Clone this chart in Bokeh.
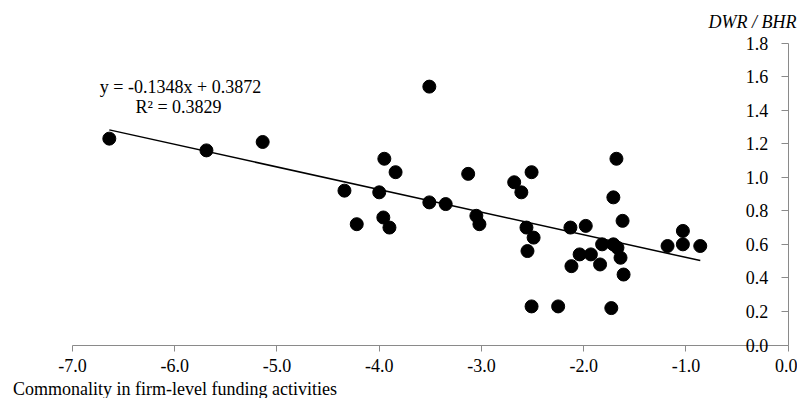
from bokeh.plotting import figure
from bokeh.models import LinearAxis, FixedTicker, NumeralTickFormatter, Label, ColumnDataSource, Range1d
from bokeh.embed import file_html
from bokeh.resources import INLINE

# ---- data ----
x_vals = [-6.64, -5.69, -5.14, -4.34, -4.22,
          -3.95, -3.84, -4.00, -3.96, -3.90,
          -3.51, -3.51, -3.35, -3.13, -3.05, -3.02,
          -2.68, -2.61, -2.51, -2.56, -2.49, -2.55, -2.51, -2.25,
          -2.13, -1.98, -2.12, -2.04, -1.93, -1.82, -1.84,
          -1.68, -1.71, -1.62, -1.71, -1.67, -1.64, -1.61, -1.73,
          -1.18, -1.03, -1.03, -0.86]
y_vals = [1.23, 1.16, 1.21, 0.92, 0.72,
          1.11, 1.03, 0.91, 0.76, 0.70,
          1.54, 0.85, 0.84, 1.02, 0.77, 0.72,
          0.97, 0.91, 1.03, 0.70, 0.64, 0.56, 0.23, 0.23,
          0.70, 0.71, 0.47, 0.54, 0.54, 0.60, 0.48,
          1.11, 0.88, 0.74, 0.60, 0.58, 0.52, 0.42, 0.22,
          0.59, 0.68, 0.60, 0.59]
slope = -0.1348
intercept = 0.3872
r_squared = 0.3829
x_ticks = [-7.0, -6.0, -5.0, -4.0, -3.0, -2.0, -1.0, 0.0]
y_ticks = [0.0, 0.2, 0.4, 0.6, 0.8, 1.0, 1.2, 1.4, 1.6, 1.8]
x_title = "Commonality in firm-level funding activities"
y_title = "DWR / BHR"

FONT = "Liberation Serif"
AXIS_GRAY = "#8a8a8a"

# ---- layout: frame fills the whole canvas, axes drawn at fixed positions ----
W, H = 797, 398
PX_L, PX_R = 72.0, 787.7      # pixel x of -7 and 0
PX_T, PX_B = 42.5, 344.5      # pixel y of 1.8 and 0
sx = (PX_R - PX_L) / 7.0
sy = (PX_B - PX_T) / 1.8
x_start = -7.0 - PX_L / sx
x_end = (W - PX_R) / sx
y_end = 1.8 + PX_T / sy
y_start = -(H - PX_B) / sy

def px_to_x(px):
    return (px - PX_R) / sx

def py_to_y(py):
    return (PX_B - py) / sy

p = figure(width=W, height=H,
           x_range=Range1d(x_start, x_end), y_range=Range1d(y_start, y_end),
           output_backend="svg", toolbar_location=None,
           x_axis_location=None, y_axis_location=None,
           min_border_left=0, min_border_right=0,
           min_border_top=0, min_border_bottom=0)
p.grid.visible = False
p.outline_line_color = None
p.background_fill_color = "white"
p.border_fill_color = "white"

# x axis at y = 0
xa = LinearAxis(fixed_location=0.0, bounds=(-7.0, 0.0))
xa.ticker = FixedTicker(ticks=x_ticks)
xa.formatter = NumeralTickFormatter(format="0.0")
xa.axis_line_color = AXIS_GRAY
xa.major_tick_line_color = AXIS_GRAY
xa.major_tick_out = 6
xa.major_tick_in = 0
xa.minor_tick_line_color = None
xa.major_label_text_font = FONT
xa.major_label_text_font_size = "18px"
xa.major_label_text_color = "black"
xa.major_label_standoff = 8
p.add_layout(xa, "below")

# y axis at x = 0, labels to its left
ya = LinearAxis(fixed_location=0.0, bounds=(0.0, 1.8))
ya.ticker = FixedTicker(ticks=y_ticks)
ya.formatter = NumeralTickFormatter(format="0.0")
ya.axis_line_color = AXIS_GRAY
ya.major_tick_line_color = AXIS_GRAY
ya.major_tick_out = 7
ya.major_tick_in = 0
ya.minor_tick_line_color = None
ya.major_label_text_font = FONT
ya.major_label_text_font_size = "18px"
ya.major_label_text_color = "black"
ya.major_label_standoff = 13
p.add_layout(ya, "left")

# points
src = ColumnDataSource(dict(x=x_vals, y=y_vals))
p.scatter("x", "y", source=src, size=13, fill_color="black", line_color="black", marker="circle")

# trend line
x0, x1 = min(x_vals), max(x_vals)
p.line([x0, x1], [slope * x0 + intercept, slope * x1 + intercept], line_color="black", line_width=1.5)

# equation
p.add_layout(Label(x=px_to_x(180), y=py_to_y(86.5), text=f"y = {slope:.4f}x + {intercept:.4f}",
                   text_font=FONT, text_font_size="18px", text_align="center",
                   text_baseline="alphabetic", text_color="black"))
p.add_layout(Label(x=px_to_x(178), y=py_to_y(106.5), text=f"R\u00b2 = {r_squared:.4f}",
                   text_font=FONT, text_font_size="18px", text_align="center",
                   text_baseline="alphabetic", text_color="black"))

# axis titles
p.add_layout(Label(x=px_to_x(12.5), y=py_to_y(388), text=x_title,
                   text_font=FONT, text_font_size="18px", text_align="left",
                   text_baseline="alphabetic", text_color="black"))
p.add_layout(Label(x=px_to_x(796), y=py_to_y(21), text=y_title,
                   text_font=FONT, text_font_size="18px", text_font_style="italic",
                   text_align="right", text_baseline="alphabetic", text_color="black"))

open("out.html", "w").write(file_html(p, INLINE))
